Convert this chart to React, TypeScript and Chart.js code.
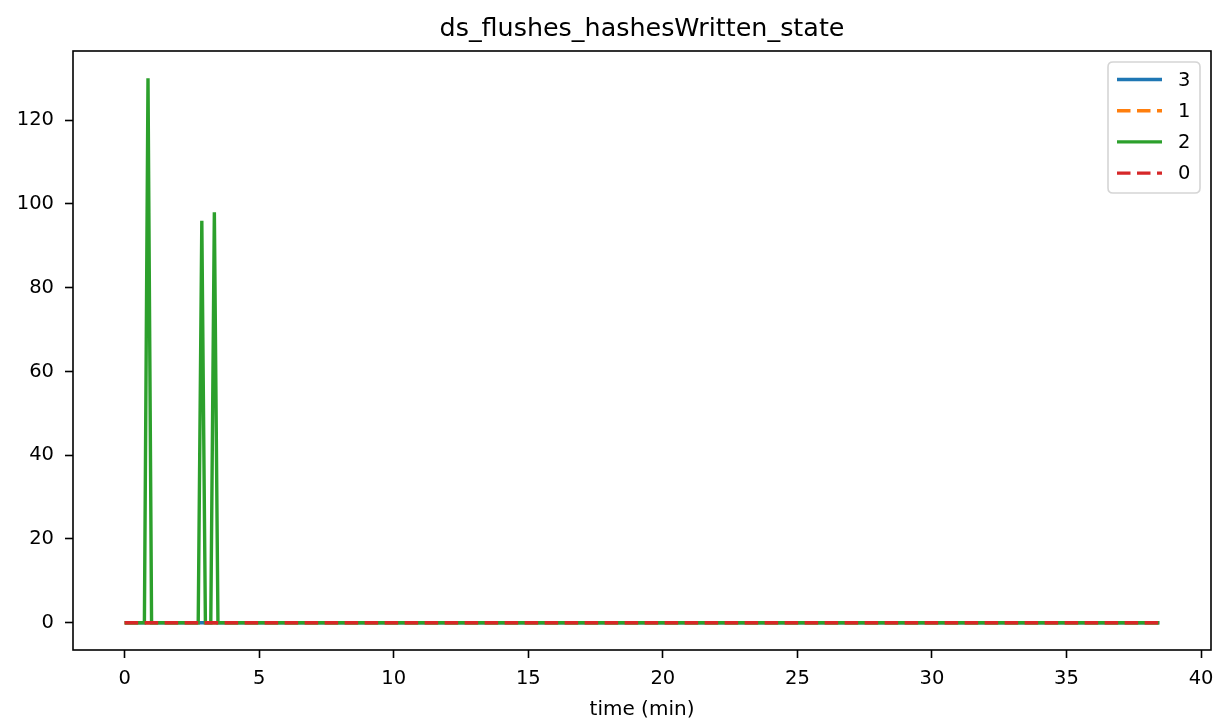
import React, { useEffect, useRef } from "react";
import { Chart, registerables } from "chart.js";

Chart.register(...registerables);

// ---- data ----
const timeMin = [0, 0.733, 0.867, 1.0, 2.733, 2.867, 3.0, 3.2, 3.333, 3.467, 38.45];
const series3 = [0, 0, 0, 0, 0, 0, 0, 0, 0, 0, 0];
const series1 = [0, 0, 0, 0, 0, 0, 0, 0, 0, 0, 0];
const series2 = [0, 0, 130, 0, 0, 96, 0, 0, 98, 0, 0];
const series0 = [0, 0, 0, 0, 0, 0, 0, 0, 0, 0, 0];
const seriesLabels = ["3", "1", "2", "0"];
const seriesColors = ["#1f77b4", "#ff7f0e", "#2ca02c", "#d62728"];
const seriesDashed = [false, true, false, true];
const xTicks = [0, 5, 10, 15, 20, 25, 30, 35, 40];
const yTicks = [0, 20, 40, 60, 80, 100, 120];
const titleText = "ds_flushes_hashesWritten_state";
const xAxisLabel = "time (min)";

const FONT = "'DejaVu Sans', Verdana, sans-serif";
const DASH = [13.5, 6.5];
const LW = 3.4;

const decorPlugin = {
  id: "decor",
  afterDatasetsDraw(chart: any) {
    const { ctx, chartArea } = chart;
    ctx.save();
    ctx.strokeStyle = "#000";
    ctx.lineWidth = 1.6;
    ctx.strokeRect(chartArea.left, chartArea.top, chartArea.right - chartArea.left, chartArea.bottom - chartArea.top);
    ctx.restore();
  },
  afterDraw(chart: any) {
    const { ctx, chartArea } = chart;
    const cx = (chartArea.left + chartArea.right) / 2;
    ctx.save();
    // title
    ctx.fillStyle = "#000";
    ctx.font = `25.4px ${FONT}`;
    ctx.textAlign = "center";
    ctx.textBaseline = "alphabetic";
    ctx.fillText(titleText, cx, 36);
    // x axis label
    ctx.font = `20px ${FONT}`;
    ctx.textBaseline = "middle";
    ctx.fillText(xAxisLabel, cx, 710);

    // legend
    const bx = 1108, by = 62, bw = 92, bh = 131, r = 5;
    ctx.beginPath();
    ctx.moveTo(bx + r, by);
    ctx.lineTo(bx + bw - r, by);
    ctx.quadraticCurveTo(bx + bw, by, bx + bw, by + r);
    ctx.lineTo(bx + bw, by + bh - r);
    ctx.quadraticCurveTo(bx + bw, by + bh, bx + bw - r, by + bh);
    ctx.lineTo(bx + r, by + bh);
    ctx.quadraticCurveTo(bx, by + bh, bx, by + bh - r);
    ctx.lineTo(bx, by + r);
    ctx.quadraticCurveTo(bx, by, bx + r, by);
    ctx.closePath();
    ctx.fillStyle = "rgba(255,255,255,0.8)";
    ctx.fill();
    ctx.strokeStyle = "#d5d5d5";
    ctx.lineWidth = 1.6;
    ctx.stroke();

    chart.data.datasets.forEach((ds: any, i: number) => {
      const y = 79.5 + i * 31.2;
      ctx.beginPath();
      ctx.setLineDash(ds.borderDash || []);
      ctx.strokeStyle = ds.borderColor;
      ctx.lineWidth = LW;
      ctx.lineCap = "butt";
      ctx.moveTo(1117, y);
      ctx.lineTo(1162, y);
      ctx.stroke();
      ctx.setLineDash([]);
      ctx.fillStyle = "#000";
      ctx.font = `19.5px ${FONT}`;
      ctx.textAlign = "left";
      ctx.textBaseline = "middle";
      ctx.fillText(ds.label, 1178, y + 1);
    });
    ctx.restore();
  },
};

export default function App() {
  const ref = useRef<HTMLCanvasElement | null>(null);

  useEffect(() => {
    document.body.style.margin = "0";
    if (!ref.current) return;
    const allSeries = [series3, series1, series2, series0];
    const datasets = allSeries.map((s, i) => ({
      label: seriesLabels[i],
      data: timeMin.map((t, j) => ({ x: t, y: s[j] })),
      borderColor: seriesColors[i],
      backgroundColor: seriesColors[i],
      borderWidth: LW,
      borderDash: seriesDashed[i] ? DASH : [],
      pointRadius: 0,
      fill: false,
      tension: 0,
      order: allSeries.length - i,
    }));
    const chart = new Chart(ref.current, {
      type: "line",
      data: { datasets },
      options: {
        animation: false,
        responsive: false,
        devicePixelRatio: 1,
        layout: { padding: { top: 51, right: 9, left: 0, bottom: 0 } },
        plugins: { legend: { display: false }, title: { display: false }, tooltip: { enabled: false } },
        scales: {
          x: {
            type: "linear",
            min: -1.92,
            max: 40.37,
            afterBuildTicks: (s: any) => { s.ticks = xTicks.map((v) => ({ value: v })); },
            afterFit: (s: any) => { s.height = 74; s.paddingLeft = 0; s.paddingRight = 0; },
            grid: { drawOnChartArea: false, drawTicks: true, tickLength: 8, tickColor: "#000", tickWidth: 1.6 },
            border: { display: false },
            ticks: { color: "#000", font: { family: FONT, size: 19.5 }, padding: 9, maxRotation: 0, autoSkip: false },
          },
          y: {
            type: "linear",
            min: -6.5,
            max: 136.5,
            afterBuildTicks: (s: any) => { s.ticks = yTicks.map((v) => ({ value: v })); },
            afterFit: (s: any) => { s.width = 73; s.paddingTop = 0; s.paddingBottom = 0; },
            grid: { drawOnChartArea: false, drawTicks: true, tickLength: 8, tickColor: "#000", tickWidth: 1.6 },
            border: { display: false },
            ticks: { color: "#000", font: { family: FONT, size: 19.5 }, padding: 11, autoSkip: false },
          },
        },
      },
      plugins: [decorPlugin],
    });
    return () => chart.destroy();
  }, []);

  return <canvas ref={ref} width={1220} height={724} style={{ display: "block", width: 1220, height: 724 }} />;
}
